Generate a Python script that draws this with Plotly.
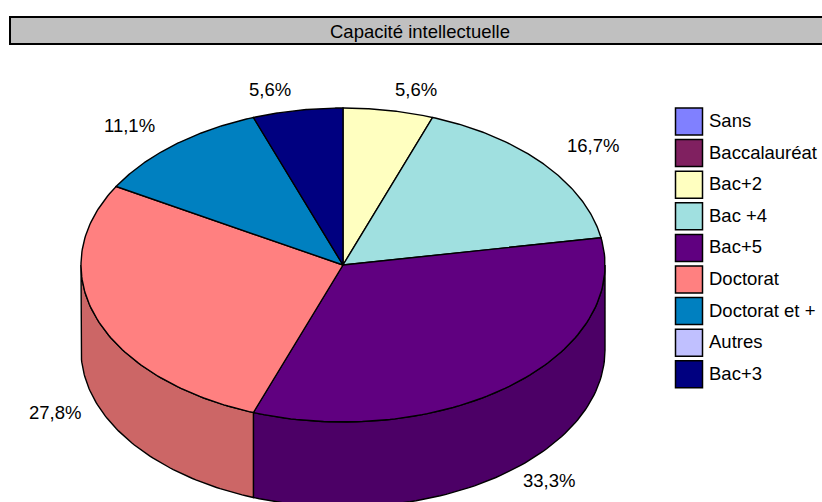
import numpy as np
import plotly.graph_objects as go

# ---- data ----
categories = ["Sans", "Baccalauréat", "Bac+2", "Bac +4", "Bac+5", "Doctorat",
              "Doctorat et +", "Autres", "Bac+3"]
counts = [0, 0, 1, 3, 6, 5, 2, 0, 1]
colors = ["#8080FF", "#802060", "#FFFFC0", "#A0E0E0", "#600080", "#FF8080",
          "#0080C0", "#C0C0FF", "#000080"]
wall_colors = ["#6666CC", "#661A4D", "#CCCC99", "#80B3B3", "#4C0066", "#CC6666",
               "#006699", "#9999CC", "#000066"]
title_text = "Capacité intellectuelle"

# ---- geometry (layout / styling) ----
W, H = 822, 502
cx, cy = 343, 265
rx, ry = 262, 157
depth = 85
FONT = "Liberation Sans, Arial, sans-serif"
FS = 18.5
LW = 1.4


def ell(theta_deg, dy=0.0, kx=0.0, ky=0.0):
    t = np.radians(theta_deg)
    return cx + (rx + kx) * np.sin(t), cy - (ry + ky) * np.cos(t) + dy


total = float(sum(counts))
fig = go.Figure()

# compute slice angles
slices = []
start = 0.0
for name, c, col, wcol in zip(categories, counts, colors, wall_colors):
    if c <= 0:
        continue
    span = 360.0 * c / total
    slices.append((name, c, col, wcol, start, start + span))
    start += span

# walls (front half: 90..270 degrees)
for name, c, col, wcol, a0, a1 in slices:
    b0, b1 = max(a0, 90.0), min(a1, 270.0)
    if b1 <= b0:
        continue
    th = np.linspace(b0, b1, 80)
    xt, yt = ell(th)
    xb, yb = ell(th[::-1], dy=depth)
    xs = np.concatenate([xt, xb, xt[:1]])
    ys = np.concatenate([yt, yb, yt[:1]])
    fig.add_trace(go.Scatter(x=xs, y=ys, mode="lines", fill="toself",
                             fillcolor=wcol, line=dict(color="black", width=LW),
                             hoverinfo="skip", showlegend=False))

# top faces
for name, c, col, wcol, a0, a1 in slices:
    th = np.linspace(a0, a1, 100)
    xa, ya = ell(th)
    xs = np.concatenate([[cx], xa, [cx]])
    ys = np.concatenate([[cy], ya, [cy]])
    fig.add_trace(go.Scatter(x=xs, y=ys, mode="lines", fill="toself",
                             fillcolor=col, line=dict(color="black", width=LW),
                             name=name, text=f"{name}: {100*c/total:.1f}%",
                             hoverinfo="text", showlegend=False))

# percentage labels
for name, c, col, wcol, a0, a1 in slices:
    mid = (a0 + a1) / 2.0
    lower = np.cos(np.radians(mid)) < 0
    if lower:
        lx, ly = ell(mid, dy=depth - 5, kx=15, ky=4)
    else:
        lx, ly = ell(mid, dy=0.0, kx=28, ky=9)
    pct = f"{100*c/total:.1f}".replace(".", ",") + "%"
    fig.add_annotation(x=lx, y=ly, text=pct, showarrow=False,
                       xanchor="left" if np.sin(np.radians(mid)) > 0 else "right",
                       yanchor="top" if lower else "bottom",
                       font=dict(family=FONT, size=FS, color="black"))

# legend (manual)
leg_x, leg_y0, leg_dy = 689, 121.5, 31.6
leg_y = [leg_y0 + i * leg_dy for i in range(len(categories))]
fig.add_trace(go.Scatter(x=[leg_x] * len(categories), y=leg_y, mode="markers",
                         marker=dict(symbol="square", size=27, color=colors,
                                     line=dict(color="black", width=1.5)),
                         hoverinfo="skip", showlegend=False))
for name, yy in zip(categories, leg_y):
    fig.add_annotation(x=707, y=yy - 1, text=name, showarrow=False, xanchor="left",
                       yanchor="middle", font=dict(family=FONT, size=FS, color="black"))

# title box
fig.add_shape(type="rect", xref="x", yref="y", x0=10, x1=832, y0=17, y1=44,
              fillcolor="#C0C0C0", line=dict(color="black", width=2), layer="below")
fig.add_annotation(x=420, y=31, text=title_text, showarrow=False,
                   xanchor="center", yanchor="middle",
                   font=dict(family=FONT, size=FS, color="black"))

fig.update_layout(
    width=W, height=H, margin=dict(l=0, r=0, t=0, b=0),
    paper_bgcolor="white", plot_bgcolor="white", showlegend=False,
    xaxis=dict(range=[0, W], visible=False, fixedrange=True),
    yaxis=dict(range=[H, 0], visible=False, fixedrange=True),
)

fig.write_html("out.html", config={"displayModeBar": False},
               post_script="document.body.style.margin='0';document.body.style.overflow='hidden';")
